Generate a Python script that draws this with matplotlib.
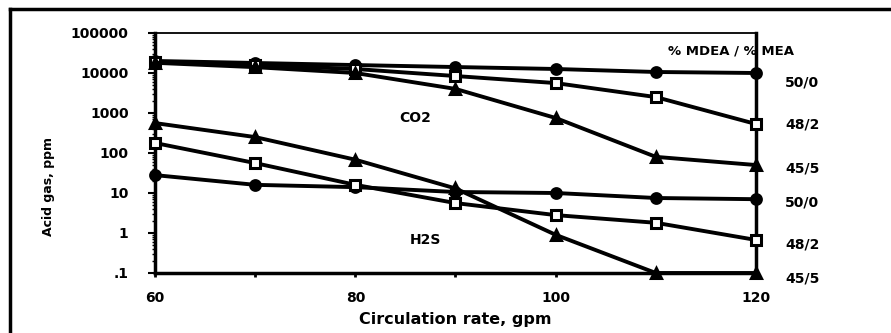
import matplotlib
matplotlib.use("Agg")
import matplotlib.pyplot as plt
from matplotlib.lines import Line2D

# ---- data ----
rate = [60, 70, 80, 90, 100, 110, 120]

co2_50_0 = [20000, 17800, 15800, 14100, 12600, 10600, 10000]
co2_48_2 = [19000, 15800, 12600, 8400, 5600, 2500, 530]
co2_45_5 = [18000, 14000, 10000, 4000, 750, 80, 50]

h2s_50_0 = [28, 16, 14, 10.6, 10, 7.5, 7]
h2s_48_2 = [178, 56, 16, 5.6, 2.8, 1.8, 0.67]
h2s_45_5 = [560, 250, 68, 13, 0.9, 0.1, 0.1]

ytick_vals = [0.1, 1, 10, 100, 1000, 10000, 100000]
ytick_labels = [".1", "1", "10", "100", "1000", "10000", "100000"]
xtick_vals = [60, 70, 80, 90, 100, 110, 120]
xtick_labels = ["60", "", "80", "", "100", "", "120"]
blend_labels = ["50/0", "48/2", "45/5", "50/0", "48/2", "45/5"]

FONT = "DejaVu Sans"
W, H = 891, 333
fig = plt.figure(figsize=(W / 100, H / 100), dpi=100)
ax = fig.add_axes([155 / W, 1 - 273 / H, (756 - 155) / W, (273 - 33) / H])

lw = 2.8
ms = 7
styles = [
    (co2_50_0, "o", "black"),
    (co2_48_2, "s", "white"),
    (co2_45_5, "^", "black"),
    (h2s_50_0, "o", "black"),
    (h2s_48_2, "s", "white"),
    (h2s_45_5, "^", "black"),
]
for vals, mk, fc in styles:
    ax.plot(rate, vals, color="black", lw=lw, marker=mk, ms=ms,
            mfc=fc, mec="black", mew=2.2, clip_on=False, zorder=3)

ax.set_yscale("log")
ax.set_ylim(0.1, 100000)
ax.set_xlim(60, 120)
ax.set_yticks(ytick_vals)
ax.set_yticklabels(ytick_labels)
ax.set_xticks(xtick_vals)
ax.set_xticklabels(xtick_labels)
ax.tick_params(axis="y", which="major", direction="out", length=5, width=1.5, pad=14)
ax.tick_params(axis="y", which="minor", direction="out", length=2, width=1)
ax.tick_params(axis="x", which="major", direction="out", length=3, width=2, pad=10)
for lab in ax.get_yticklabels() + ax.get_xticklabels():
    lab.set_fontfamily(FONT)
    lab.set_fontweight("bold")
    lab.set_fontsize(10)

for side in ["left", "bottom", "right"]:
    ax.spines[side].set_linewidth(2.5)
ax.spines["top"].set_linewidth(1.3)

ax.set_xlabel("Circulation rate, gpm", fontsize=11.5, fontweight="bold",
              family=FONT, labelpad=5)
ax.set_ylabel("Acid gas, ppm", fontsize=9, fontweight="bold",
              family=["Liberation Sans Narrow", "DejaVu Sans"])
ax.yaxis.set_label_coords((55 - 155) / 601, 1 - (187 - 33) / 240)

ax.text(86, 750, "CO2", fontsize=10, fontweight="bold", family=FONT,
        ha="center", va="center")
ax.text(87, 0.67, "H2S", fontsize=10, fontweight="bold", family=FONT,
        ha="center", va="center")

ax.text((668 - 155) / 601, 1 - (51 - 33) / 240, "% MDEA / % MEA",
        transform=ax.transAxes, fontsize=9.5, fontweight="bold", family=FONT,
        ha="left", va="center")
label_ypix = [82, 125, 168, 203, 245, 278]
for lab, yp in zip(blend_labels, label_ypix):
    ax.text((785 - 155) / 601, 1 - (yp - 33) / 240, lab,
            transform=ax.transAxes, fontsize=10, fontweight="bold",
            family=FONT, ha="left", va="center", clip_on=False)

# outer frame (top and left edges visible)
fig.add_artist(Line2D([10 / W, 1.0], [1 - 9 / H, 1 - 9 / H],
                      transform=fig.transFigure, color="black", lw=2.5))
fig.add_artist(Line2D([10 / W, 10 / W], [0.0, 1 - 9 / H],
                      transform=fig.transFigure, color="black", lw=2.5))

fig.savefig("out.png", dpi=100)
